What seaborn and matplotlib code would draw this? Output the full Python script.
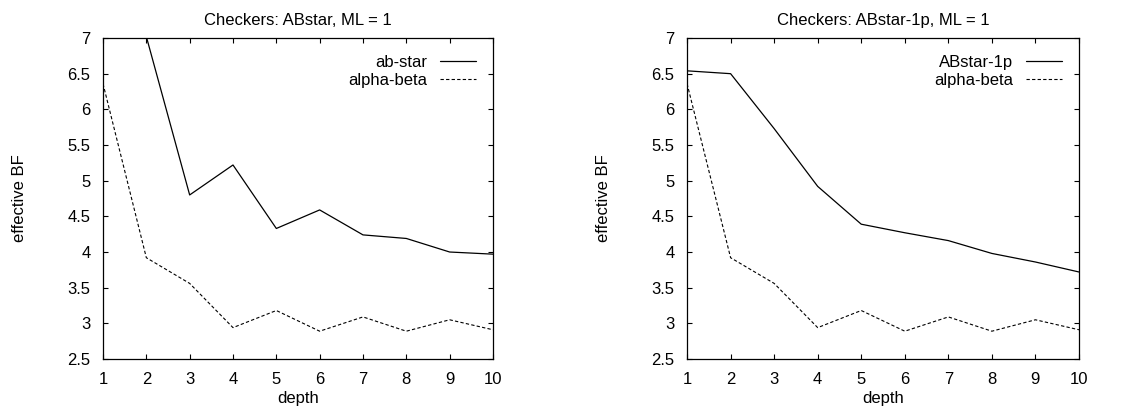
import numpy as np
import pandas as pd
import seaborn as sns
import matplotlib.pyplot as plt

depth = [1, 2, 3, 4, 5, 6, 7, 8, 9, 10]
ab_star = [8.6, 7.02, 4.80, 5.22, 4.33, 4.59, 4.24, 4.19, 4.00, 3.97]
abstar_1p = [6.54, 6.50, 5.73, 4.92, 4.39, 4.27, 4.16, 3.98, 3.86, 3.72]
alpha_beta = [6.36, 3.92, 3.56, 2.94, 3.18, 2.89, 3.09, 2.89, 3.05, 2.91]

titles = ["Checkers: ABstar, ML = 1", "Checkers: ABstar-1p, ML = 1"]
labels = ["ab-star", "ABstar-1p"]
series = [ab_star, abstar_1p]

sns.set_style("ticks", {"text.color": "black", "axes.labelcolor": "black",
                        "xtick.color": "black", "ytick.color": "black",
                        "axes.edgecolor": "black"})
plt.rcParams["font.family"] = ["Liberation Sans", "DejaVu Sans"]
plt.rcParams["font.size"] = 12

fig = plt.figure(figsize=(11.47, 4.07), dpi=100)
ax_pos = [[0.0898, 0.1179, 0.340, 0.7887], [0.599, 0.1179, 0.3417, 0.7887]]

for i in range(2):
    ax = fig.add_axes(ax_pos[i])
    sns.lineplot(x=depth, y=series[i], ax=ax, color="black", linewidth=0.9,
                 label=labels[i])
    sns.lineplot(x=depth, y=alpha_beta, ax=ax, color="black", linewidth=0.8,
                 linestyle=(0, (3, 2)), label="alpha-beta")
    ax.set_xlim(1, 10)
    ax.set_ylim(2.5, 7)
    ax.set_xticks(depth)
    ax.set_yticks(np.arange(2.5, 7.01, 0.5))
    ax.set_yticklabels(["2.5", "3", "3.5", "4", "4.5", "5", "5.5", "6", "6.5", "7"])
    ax.tick_params(direction="in", top=True, right=True, length=3.8, width=0.8,
                   labelsize=12, color="black", labelcolor="black")
    ax.tick_params(axis="y", pad=9)
    ax.tick_params(axis="x", pad=9.5)
    for s in ax.spines.values():
        s.set_visible(True)
        s.set_linewidth(0.9)
        s.set_color("black")
    ax.set_title(titles[i], fontsize=12, pad=9.5, color="black")
    ax.set_xlabel("depth", fontsize=12, labelpad=3, color="black")
    ax.set_ylabel("effective BF", fontsize=12, labelpad=29, color="black")
    ax.legend(loc="upper right", frameon=False, markerfirst=False,
              fontsize=12, handlelength=2.2, handletextpad=0.75,
              labelspacing=0.2, borderaxespad=0.6)

fig.savefig("out.png", dpi=100)
